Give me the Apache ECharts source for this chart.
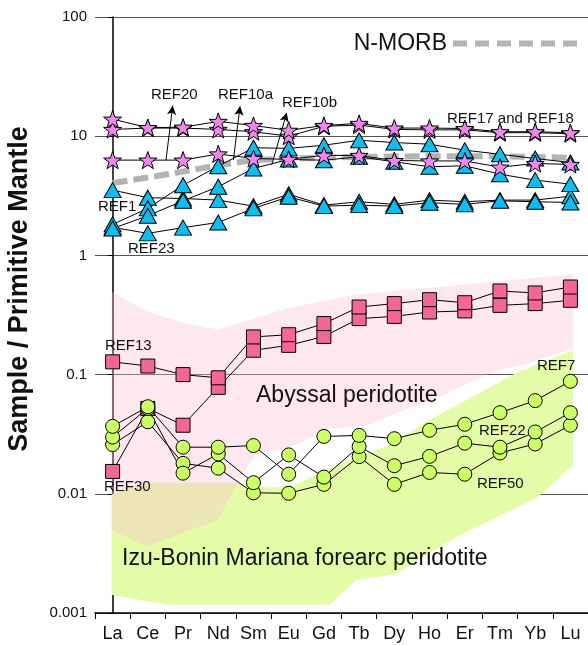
<!DOCTYPE html>
<html>
<head>
<meta charset="utf-8">
<title>REE patterns normalised to primitive mantle</title>
<script src="https://cdn.jsdelivr.net/npm/echarts@6/dist/echarts.min.js"></script>
<style>
  html, body { margin: 0; padding: 0; background: #fff; }
  #chart { width: 588px; height: 645px; }
</style>
</head>
<body>
<div id="chart"></div>
<script>
// Rare earth elements (x axis)
const elements = ['La', 'Ce', 'Pr', 'Nd', 'Sm', 'Eu', 'Gd', 'Tb', 'Dy', 'Ho', 'Er', 'Tm', 'Yb', 'Lu'];

// y tick labels (log scale)
const yTickLabels = { 100: '100', 10: '10', 1: '1', 0.1: '0.1', 0.01: '0.01', 0.001: '0.001' };

// N-MORB reference pattern
const nMorb = [4.05, 4.5, 5.05, 5.7, 6.3, 6.5, 6.6, 6.7, 6.75, 6.8, 6.8, 6.8, 6.7, 6.6];

// Star samples
const ref17 = [13.9, 11.8, 11.9, 13.3, 12.3, 11.2, 12.3, 12.8, 11.7, 11.7, 11.6, 10.9, 10.9, 10.7];
const ref18 = [11.4, 11.7, 11.7, 11.4, 10.9, 10.0, 12.1, 12.4, 11.4, 11.3, 11.3, 10.7, 10.7, 10.5];
const ref20 = [6.3, 6.3, 6.3, 7.1, 6.5, 6.4, 6.9, 6.9, 6.25, 6.2, 6.2, 5.5, 5.9, 5.8];

// Triangle samples
const ref1 = [3.53, 3.05, 3.0, 2.91, 2.59, 3.26, 2.64, 2.82, 2.68, 2.91, 2.82, 2.91, 2.91, 3.14];
const ref23 = [1.72, 1.53, 1.71, 1.89, 2.48, 3.1, 2.59, 2.64, 2.59, 2.77, 2.68, 2.87, 2.82, 2.78];
const ref10a = [1.82, 2.48, 3.88, 5.6, 8.0, 7.9, 8.4, 9.25, 8.85, 8.57, 7.63, 7.06, 6.5, 6.02];
const ref10b = [1.68, 2.15, 2.87, 3.77, 5.36, 6.38, 6.29, 6.72, 6.1, 5.54, 5.65, 4.8, 4.28, 3.96];

// Square samples
const ref13 = [0.128, 0.118, 0.100, 0.094, 0.207, 0.216, 0.268, 0.369, 0.394, 0.425, 0.401, 0.503, 0.484, 0.543];
const ref30 = [0.0154, 0.052, 0.0376, 0.0782, 0.160, 0.176, 0.209, 0.295, 0.308, 0.335, 0.342, 0.381, 0.394, 0.420];

// Circle samples
const ref7 = [0.0368, 0.0538, 0.0246, 0.0246, 0.0254, 0.0146, 0.0303, 0.0309, 0.0290, 0.0341, 0.0383, 0.0479, 0.0605, 0.0879];
const ref22 = [0.0299, 0.0521, 0.0149, 0.0216, 0.0124, 0.0212, 0.0138, 0.0249, 0.0172, 0.0206, 0.0266, 0.0246, 0.0330, 0.0479];
const ref50 = [0.0259, 0.0402, 0.0180, 0.0164, 0.0102, 0.0101, 0.0120, 0.0205, 0.0120, 0.0151, 0.0146, 0.0220, 0.0262, 0.0376];

// Envelopes of published compositions: [element index, normalised value]
const abyssalEnvelope = [
  [-0.03, 0.499], [0.97, 0.339], [2.01, 0.271], [3.0, 0.239], [3.99, 0.294], [4.99, 0.362],
  [5.94, 0.411], [6.88, 0.468], [8.73, 0.526], [9.67, 0.56], [13.08, 0.698],
  [13.08, 0.165], [11.85, 0.125], [10.72, 0.103], [9.3, 0.0656], [8.07, 0.0476], [7.3, 0.038],
  [6.17, 0.0352], [4.99, 0.0242], [4.04, 0.0213], [3.52, 0.0119], [3.0, 0.00606],
  [0.97, 0.00362], [-0.03, 0.005]
];
const forearcEnvelope = [
  [-0.03, 0.00984], [0.86, 0.0124], [3.53, 0.0124], [4.47, 0.01125], [5.18, 0.0119], [5.95, 0.0153],
  [6.88, 0.0201], [7.88, 0.0258], [9.01, 0.0419], [11.49, 0.104], [13.08, 0.162],
  [13.08, 0.0175], [12.05, 0.00923], [9.77, 0.00437], [8.02, 0.0021], [6.93, 0.0019],
  [6.17, 0.00117], [1.54, 0.00117], [-0.03, 0.00142]
];

const FONT = 'Liberation Sans, Arial, Helvetica, sans-serif';
const STAR = 'path://M50,2 L61.8,36.2 L97.6,36.8 L69.1,58.6 L79.4,93 L50,72.5 L20.6,93 L30.9,58.6 L2.4,36.8 L38.2,36.2 Z';

function sampleSeries(name, values, symbol, size, color, z) {
  return {
    name: name,
    type: 'line',
    data: values,
    symbol: symbol,
    symbolSize: size,
    symbolKeepAspect: true,
    showAllSymbol: true,
    lineStyle: { color: '#000', width: 1 },
    itemStyle: { color: color, borderColor: '#000', borderWidth: 1, opacity: 1 },
    emphasis: { disabled: true },
    silent: true,
    z: z
  };
}

function envelopeSeries(name, points, fill, z, extra) {
  return Object.assign({
    name: name,
    type: 'custom',
    xAxisIndex: 1,
    yAxisIndex: 0,
    silent: true,
    clip: true,
    z: z,
    data: [[0, 1]],
    renderItem: function (params, api) {
      return {
        type: 'polygon',
        shape: { points: points.map(function (p) { return api.coord(p); }) },
        style: { fill: fill, stroke: null }
      };
    }
  }, extra || {});
}

const chart = echarts.init(document.getElementById('chart'), null, { renderer: 'canvas' });

const labelStyle = { fontFamily: FONT, fontSize: 15, fill: '#111' };
const bigStyle = { fontFamily: FONT, fontSize: 23, fill: '#111' };

function txt(text, x, y, style, align) {
  return {
    type: 'text', x: x, y: y, silent: true, z: 50,
    style: Object.assign({ text: text, align: align || 'left', verticalAlign: 'middle' }, style)
  };
}

chart.setOption({
  animation: false,
  backgroundColor: '#fff',
  grid: { left: 95, right: 0, top: 17, bottom: 32, containLabel: false },
  xAxis: [
    {
      type: 'category',
      data: elements,
      boundaryGap: true,
      axisLine: { show: true, lineStyle: { color: '#000', width: 1.5 } },
      axisTick: { show: true, alignWithLabel: false, length: 6, lineStyle: { color: '#000', width: 1 } },
      axisLabel: { fontFamily: FONT, fontSize: 18, color: '#111', margin: 12 },
      splitLine: { show: false }
    },
    {
      type: 'value', min: -0.5, max: 13.5, show: false
    }
  ],
  yAxis: [{
    type: 'log',
    logBase: 10,
    min: 0.001,
    max: 100,
    axisLine: { show: true, lineStyle: { color: '#000', width: 1.5 } },
    axisTick: { show: true, inside: false, length: 5, lineStyle: { color: '#000', width: 1 } },
    minorTick: { show: false },
    axisLabel: {
      fontFamily: FONT, fontSize: 15, color: '#111', margin: 8,
      formatter: function (v) {
        const k = Object.keys(yTickLabels).find(function (t) { return Math.abs(Math.log10(+t) - Math.log10(v)) < 1e-6; });
        return k ? yTickLabels[k] : '';
      }
    },
    splitLine: { show: true, lineStyle: { color: '#555', width: 1 } }
  }],
  series: [
    envelopeSeries('Izu-Bonin Mariana forearc peridotite', forearcEnvelope, 'rgb(228,252,168)', 1),
    envelopeSeries('Abyssal peridotite', abyssalEnvelope, 'rgba(251,190,208,0.35)', 1, {
      markLine: {
        silent: true,
        symbol: ['none', 'arrow'],
        symbolSize: [7, 9],
        label: { show: false },
        lineStyle: { color: '#000', width: 1, type: 'solid' },
        data: [
          [{ coord: [1.516, 6.3] }, { coord: [1.707, 18.0] }],
          [{ coord: [3.43, 6.3] }, { coord: [3.618, 17.8] }],
          [{ coord: [4.52, 5.75] }, { coord: [4.944, 15.7] }]
        ]
      }
    }),
    {
      name: 'N-MORB',
      type: 'line',
      data: nMorb,
      symbol: 'none',
      silent: true,
      lineStyle: { color: '#b3b3b3', width: 6, type: [15, 6], cap: 'butt' },
      z: 2
    },
    sampleSeries('REF1', ref1, 'triangle', [17, 15], '#10bdf0', 3),
    sampleSeries('REF23', ref23, 'triangle', [17, 15], '#10bdf0', 3),
    sampleSeries('REF10a', ref10a, 'triangle', [17, 15], '#10bdf0', 3),
    sampleSeries('REF10b', ref10b, 'triangle', [17, 15], '#10bdf0', 3),
    sampleSeries('REF20', ref20, STAR, 18, '#ee88ee', 4),
    sampleSeries('REF18', ref18, STAR, 18, '#ee88ee', 4),
    sampleSeries('REF17', ref17, STAR, 18, '#ee88ee', 4),
    sampleSeries('REF30', ref30, 'rect', 14, '#f46794', 3),
    sampleSeries('REF13', ref13, 'rect', 14, '#f46794', 3),
    sampleSeries('REF50', ref50, 'circle', 14, '#ccff66', 4),
    sampleSeries('REF22', ref22, 'circle', 14, '#ccff66', 4),
    sampleSeries('REF7', ref7, 'circle', 14, '#ccff66', 4)
  ],
  graphic: [
    // y axis title
    {
      type: 'text', x: 20, y: 289, rotation: Math.PI / 2, silent: true,
      style: { text: 'Sample / Primitive Mantle', fontFamily: FONT, fontSize: 27, fontWeight: 'bold', fill: '#111', align: 'center', verticalAlign: 'middle' }
    },
    // N-MORB key
    txt('N-MORB', 447, 44, bigStyle, 'right'),
    {
      type: 'line', silent: true, z: 50,
      shape: { x1: 453, y1: 43.5, x2: 578, y2: 43.5 },
      style: { stroke: '#b3b3b3', lineWidth: 6, lineDash: [14, 8], lineCap: 'butt' }
    },
    // sample labels
    txt('REF20', 151, 95, labelStyle),
    txt('REF10a', 218, 95, labelStyle),
    txt('REF10b', 282, 103, labelStyle),
    txt('REF17 and REF18', 447, 119, labelStyle),
    txt('REF1', 98, 207, labelStyle),
    txt('REF23', 128, 249, labelStyle),
    txt('REF13', 105, 346, labelStyle),
    txt('REF30', 104, 487, labelStyle),
    txt('REF7', 537, 366, labelStyle),
    txt('REF22', 479, 431, labelStyle),
    txt('REF50', 477, 484, labelStyle),
    // field labels
    txt('Abyssal peridotite', 256, 396, bigStyle),
    txt('Izu-Bonin Mariana forearc peridotite', 122, 559, bigStyle)
  ]
});
</script>
</body>
</html>
